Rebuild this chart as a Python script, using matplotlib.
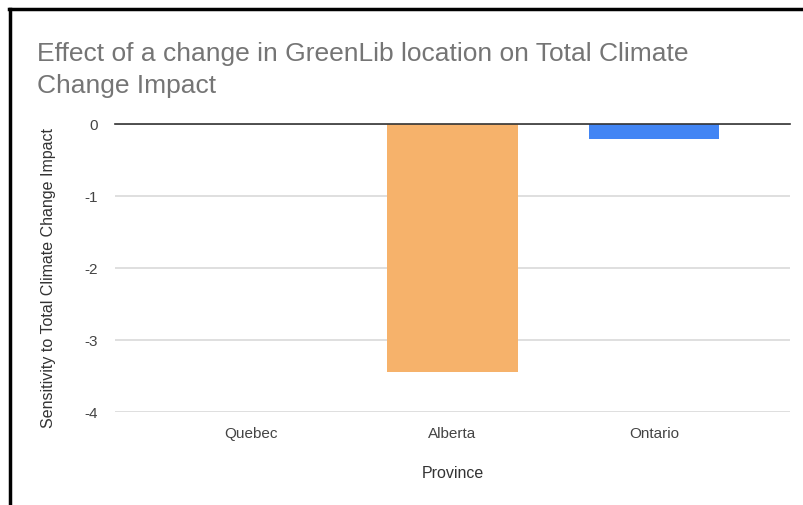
import matplotlib.pyplot as plt
from matplotlib.lines import Line2D

plt.rcParams['font.family'] = ['Liberation Sans', 'DejaVu Sans']

provinces = ['Quebec', 'Alberta', 'Ontario']
sensitivity = [0.0, -3.44, -0.21]
bar_colors = ['#4285F4', '#F6B26B', '#4285F4']
y_ticks = [0, -1, -2, -3, -4]

fig = plt.figure(figsize=(8.04, 5.06), dpi=100)
ax = fig.add_axes([115 / 804, 93 / 506, 675 / 804, 288 / 506])

x = list(range(len(provinces)))
ax.bar(x, sensitivity, width=0.65, color=bar_colors, zorder=2)

ax.set_xlim(-0.675, 2.675)
ax.set_ylim(-4, 0)
ax.set_yticks(y_ticks)
ax.set_yticklabels([str(t) for t in y_ticks])
ax.set_xticks(x)
ax.set_xticklabels(provinces)

# grid + zero line
ax.yaxis.grid(True, color='#d9d9d9', linewidth=1.2, zorder=0)
ax.axhline(0, color='#333333', linewidth=1.2, zorder=3, clip_on=False)
for s in ax.spines.values():
    s.set_visible(False)
ax.tick_params(axis='both', length=0, labelsize=11, colors='#444444')
ax.tick_params(axis='y', pad=12)
ax.tick_params(axis='x', pad=10)

ax.set_xlabel('Province', fontsize=11.5, color='#333333', labelpad=18)
ax.set_ylabel('Sensitivity to Total Climate Change Impact', fontsize=11.5,
              color='#333333')
ax.yaxis.set_label_coords(-0.088, 0.47)

fig.text(37 / 804, 1 - 42 / 506,
         'Effect of a change in GreenLib location on Total Climate\nChange Impact',
         fontsize=19, color='#757575', va='top', ha='left', linespacing=1.4)

# frame around the chart (left + top edges only)
fig.add_artist(Line2D([10 / 804, 10 / 804], [0, 1 - 10 / 506],
                      transform=fig.transFigure, color='black', linewidth=2.5))
fig.add_artist(Line2D([9 / 804, 1], [1 - 10 / 506, 1 - 10 / 506],
                      transform=fig.transFigure, color='black', linewidth=2.5))

fig.savefig('out.png', dpi=100)
